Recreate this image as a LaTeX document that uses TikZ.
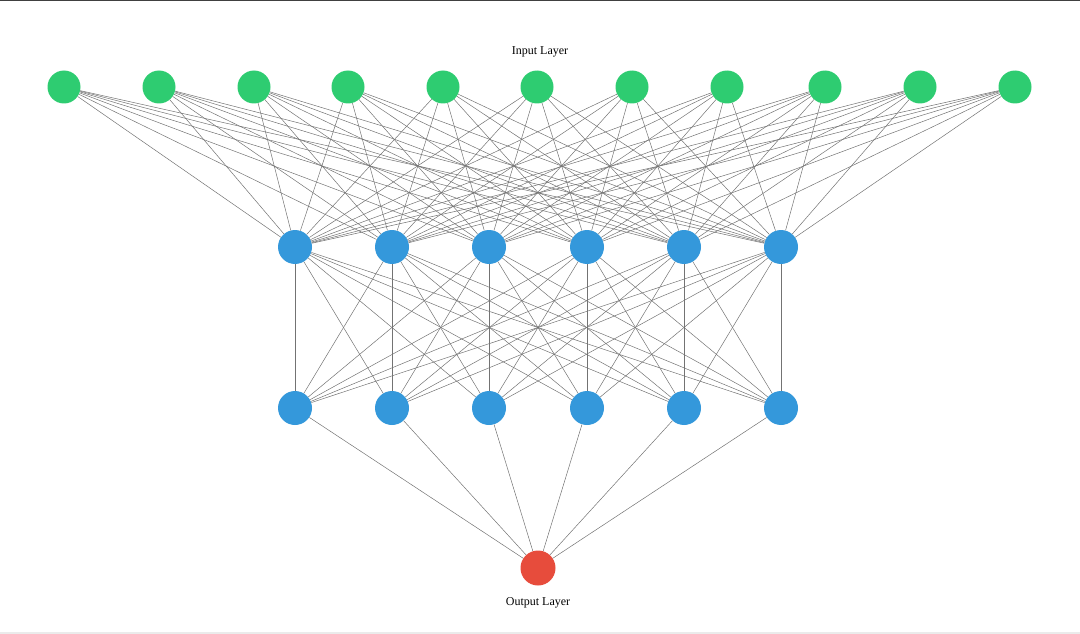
\documentclass[tikz,border=0pt]{standalone}
\usepackage{fontspec}
\setmainfont{Liberation Serif}
\definecolor{ingreen}{HTML}{2ECC71}
\definecolor{hidblue}{HTML}{3498DB}
\definecolor{outred}{HTML}{E74C3C}
\begin{document}
\begin{tikzpicture}[x=1pt,y=-1pt,
  neuron/.style={circle,inner sep=0pt,minimum size=33pt},
  innode/.style={neuron,fill=ingreen},
  hidnode/.style={neuron,fill=hidblue,minimum size=34pt},
  outnode/.style={neuron,fill=outred,minimum size=35pt},
  conn/.style={draw=black!55,line width=0.5pt},
  lbl/.style={font=\fontsize{12}{14}\selectfont,text=black}]
\useasboundingbox (0,0) rectangle (1080,634);
\fill[black!75] (0,0) rectangle (1080,1.5);
\fill[black!8] (0,632) rectangle (1080,634);
\foreach \x [count=\i] in {64,159,254,348,443,537,632,727,825,920,1015}
  \node[innode] (i\i) at (\x,87) {};
\foreach \x [count=\i] in {295,392,489,587,684,781}{
  \node[hidnode] (a\i) at (\x,247) {};
  \node[hidnode] (b\i) at (\x,408) {};
}
\node[outnode] (o) at (538,568) {};
\node[lbl] (tin) at (540,52) {Input Layer};
\node[lbl] (tout) at (538,603) {Output Layer};
\foreach \i in {1,...,11}
  \foreach \j in {1,...,6}
    \draw[conn] (i\i) -- (a\j);
\foreach \i in {1,...,6}
  \foreach \j in {1,...,6}
    \draw[conn] (a\i) -- (b\j);
\foreach \j in {1,...,6}
  \draw[conn] (b\j) -- (o);
\end{tikzpicture}
\end{document}
